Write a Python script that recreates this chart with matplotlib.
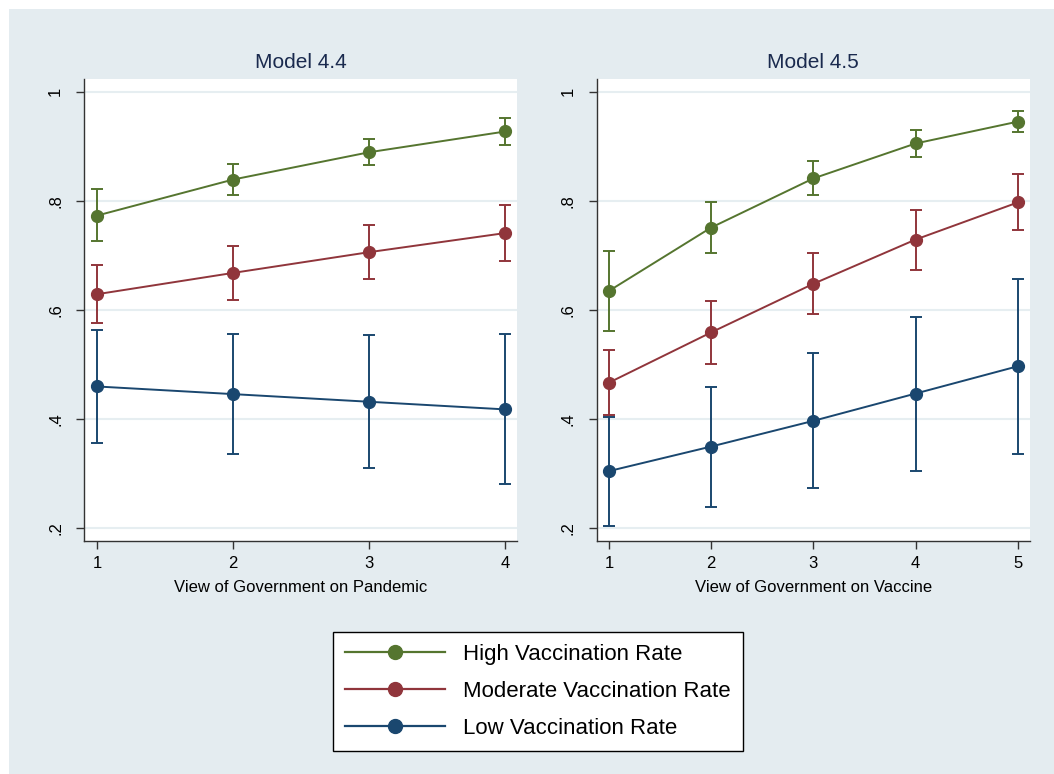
import numpy as np
import matplotlib.pyplot as plt
from matplotlib.patches import Rectangle
from matplotlib.lines import Line2D

# Predicted probabilities with 95% CIs, by view of government
series_names = ["High Vaccination Rate", "Moderate Vaccination Rate", "Low Vaccination Rate"]
series_colors = ["#55752F", "#90353B", "#1A476F"]

# Model 4.4: view of government on pandemic (1-4)
pandemic_x = [1, 2, 3, 4]
pandemic_high = [0.773, 0.839, 0.889, 0.927]
pandemic_high_lo = [0.727, 0.811, 0.865, 0.902]
pandemic_high_hi = [0.821, 0.867, 0.913, 0.951]
pandemic_mod = [0.629, 0.668, 0.706, 0.741]
pandemic_mod_lo = [0.576, 0.619, 0.656, 0.689]
pandemic_mod_hi = [0.682, 0.718, 0.755, 0.793]
pandemic_low = [0.460, 0.446, 0.432, 0.418]
pandemic_low_lo = [0.357, 0.336, 0.310, 0.281]
pandemic_low_hi = [0.563, 0.557, 0.554, 0.556]

# Model 4.5: view of government on vaccine (1-5)
vaccine_x = [1, 2, 3, 4, 5]
vaccine_high = [0.635, 0.751, 0.841, 0.905, 0.945]
vaccine_high_lo = [0.562, 0.705, 0.811, 0.881, 0.926]
vaccine_high_hi = [0.708, 0.797, 0.873, 0.929, 0.965]
vaccine_mod = [0.467, 0.559, 0.648, 0.729, 0.797]
vaccine_mod_lo = [0.407, 0.502, 0.592, 0.674, 0.747]
vaccine_mod_hi = [0.526, 0.616, 0.704, 0.783, 0.849]
vaccine_low = [0.305, 0.350, 0.397, 0.447, 0.497]
vaccine_low_lo = [0.205, 0.240, 0.274, 0.305, 0.337]
vaccine_low_hi = [0.405, 0.459, 0.521, 0.587, 0.656]

y_ticks = [0.2, 0.4, 0.6, 0.8, 1.0]
y_tick_labels = [".2", ".4", ".6", ".8", "1"]

BG = "#E4ECF0"
GRID = "#E6EEF1"
TITLE_COLOR = "#1A2A4E"

plt.rcParams['font.family'] = ['Liberation Sans', 'DejaVu Sans']

fig = plt.figure(figsize=(10.54, 7.74), dpi=100)
fig.patch.set_facecolor("white")
# graph region background, leaving a thin white margin top and left
fig.add_artist(Rectangle((9 / 1054, 0), 1, 1 - 9 / 774, transform=fig.transFigure,
                         facecolor=BG, edgecolor="none", zorder=0))


def draw_panel(ax, x, groups, title, xlabel, xlim):
    ax.set_facecolor("white")
    for (mid, lo, hi), color in zip(groups, series_colors):
        mid = np.array(mid)
        err = [mid - np.array(lo), np.array(hi) - mid]
        ax.errorbar(x, mid, yerr=err, fmt="none", ecolor=color, elinewidth=1.4,
                    capsize=4, capthick=1.4, zorder=3)
        ax.plot(x, mid, color=color, linewidth=1.4, marker="o", markersize=8.5,
                zorder=4)
    ax.set_xlim(*xlim)
    ax.set_ylim(0.177, 1.0233)
    ax.set_xticks(x)
    ax.set_yticks(y_ticks)
    ax.set_yticklabels(y_tick_labels, rotation=90, va="center")
    ax.yaxis.grid(True, color=GRID, linewidth=1.5)
    ax.set_axisbelow(True)
    for side in ["top", "right"]:
        ax.spines[side].set_visible(False)
    for side in ["left", "bottom"]:
        ax.spines[side].set_color("#333333")
        ax.spines[side].set_linewidth(1.0)
    ax.tick_params(axis="both", direction="out", length=6, width=1.0,
                   color="#333333", labelsize=12, labelcolor="black", pad=5)
    ax.tick_params(axis="y", pad=9)
    ax.set_title(title, fontsize=15, color=TITLE_COLOR, pad=8)
    ax.set_xlabel(xlabel, fontsize=12, labelpad=6)


panel_bottom = 1 - 541 / 774
panel_height = (541 - 78.9) / 774

ax1 = fig.add_axes([0.0797, panel_bottom, 0.4108, panel_height])
draw_panel(ax1, pandemic_x,
           [(pandemic_high, pandemic_high_lo, pandemic_high_hi),
            (pandemic_mod, pandemic_mod_lo, pandemic_mod_hi),
            (pandemic_low, pandemic_low_lo, pandemic_low_hi)],
           "Model 4.4", "View of Government on Pandemic", (0.904, 4.086))

ax2 = fig.add_axes([0.5661, panel_bottom, 0.4111, panel_height])
draw_panel(ax2, vaccine_x,
           [(vaccine_high, vaccine_high_lo, vaccine_high_hi),
            (vaccine_mod, vaccine_mod_lo, vaccine_mod_hi),
            (vaccine_low, vaccine_low_lo, vaccine_low_hi)],
           "Model 4.5", "View of Government on Vaccine", (0.88, 5.12))

handles = [Line2D([0], [0], color=c, linewidth=1.6, marker="o", markersize=10)
           for c in series_colors]
leg = fig.legend(handles, series_names, loc="center",
                 bbox_to_anchor=(538 / 1054, 1 - 691.5 / 774),
                 fontsize=16, frameon=True, fancybox=False, handlelength=4.5,
                 handletextpad=0.8, labelspacing=0.72, borderpad=0.55,
                 borderaxespad=0)
leg.get_frame().set_edgecolor("black")
leg.get_frame().set_linewidth(1.0)
leg.get_frame().set_facecolor("white")
leg.get_frame().set_alpha(1)

fig.savefig("out.png", dpi=100, facecolor=fig.get_facecolor())
